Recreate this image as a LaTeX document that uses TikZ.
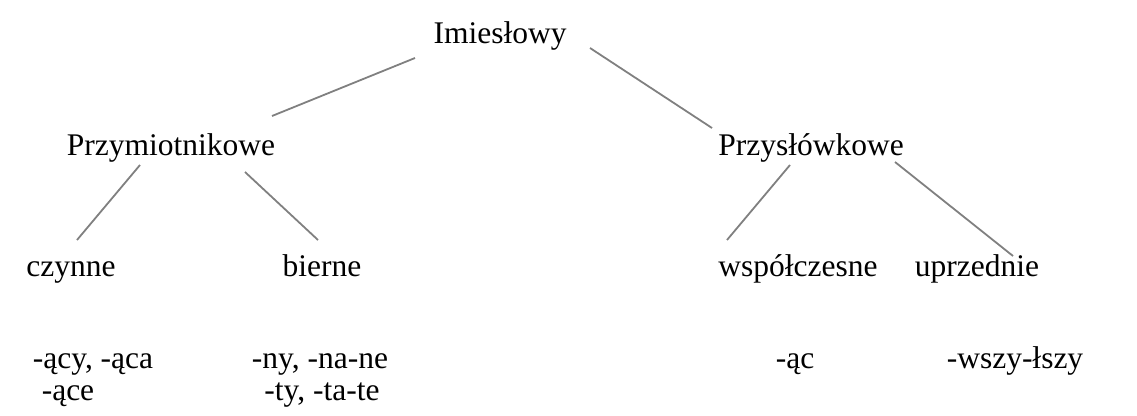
\documentclass[tikz,border=0pt]{standalone}
\usepackage{fontspec}
\setmainfont{Liberation Serif}
\begin{document}
\begin{tikzpicture}[x=1pt,y=-1pt,
  lbl/.style={anchor=base,inner sep=0pt,font=\fontsize{31.5}{36}\selectfont},
  conn/.style={draw=black!50,line width=1.8pt}]
\useasboundingbox (0,0) rectangle (1137,415);
\node[lbl] (root) at (500,43) {Imiesłowy};
\node[lbl] (pm) at (171,155) {Przymiotnikowe};
\node[lbl] (ps) at (811,155) {Przysłówkowe};
\node[lbl] (cz) at (71,276) {czynne};
\node[lbl] (bi) at (322,276) {bierne};
\node[lbl] (ws) at (798,276) {współczesne};
\node[lbl] (up) at (977,276) {uprzednie};
\node[lbl] (e1) at (93,368) {-ący, -ąca};
\node[lbl] (e2) at (68,400) {-ące};
\node[lbl] (e3) at (320,368) {-ny, -na-ne};
\node[lbl] (e4) at (322,400) {-ty, -ta-te};
\node[lbl] (e5) at (795,368) {-ąc};
\node[lbl] (e6) at (1015,368) {-wszy-łszy};
\draw[conn] ([shift={(-85,15)}]root.base) -- ([shift={(101,-39)}]pm.base);
\draw[conn] ([shift={(90,5)}]root.base) -- ([shift={(-99,-27)}]ps.base);
\draw[conn] ([shift={(-31,10)}]pm.base) -- ([shift={(6,-36)}]cz.base);
\draw[conn] ([shift={(74,17)}]pm.base) -- ([shift={(-4,-36)}]bi.base);
\draw[conn] ([shift={(-21,10)}]ps.base) -- ([shift={(-71,-36)}]ws.base);
\draw[conn] ([shift={(84,7)}]ps.base) -- ([shift={(36,-20)}]up.base);
\end{tikzpicture}
\end{document}
